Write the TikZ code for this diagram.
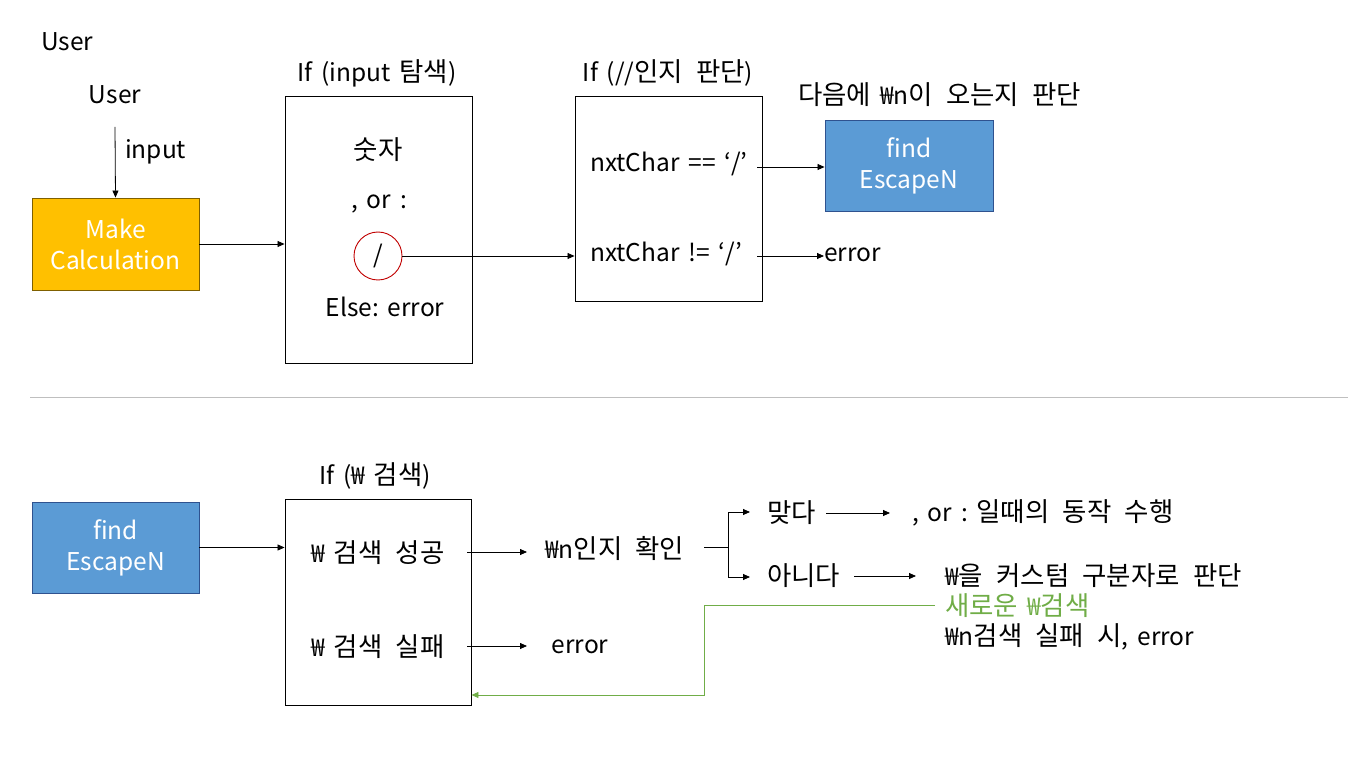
\documentclass[tikz,border=0pt]{standalone}
\usepackage{fontspec}
\setmainfont{Noto Sans CJK KR}
\newfontfamily\krfont[Scale=1.08]{Noto Sans CJK KR}
\usetikzlibrary{arrows.meta}
\definecolor{calcfill}{HTML}{FFC000}
\definecolor{calcdraw}{HTML}{7F6000}
\definecolor{bluefill}{HTML}{5B9BD5}
\definecolor{bluedraw}{HTML}{2F528F}
\definecolor{greenline}{HTML}{70AD47}
\definecolor{circred}{HTML}{C00000}
\definecolor{sepgray}{HTML}{BFBFBF}
\newcommand{\dfont}{\fontsize{24.5}{31}\selectfont\frenchspacing\spaceskip=0.36em\relax}
\newcommand{\kr}[1]{{\krfont\spaceskip=0.5em\relax #1}}
\begin{document}
\begin{tikzpicture}[x=1pt,y=-1pt,
  every node/.style={font=\dfont, inner sep=0pt},
  txt/.style={anchor=west},
  frame/.style={draw=black, line width=0.9pt},
  conn/.style={-{Triangle[length=7pt,width=6pt]}, line width=0.8pt},
  bluebox/.style={draw=bluedraw, fill=bluefill, line width=0.9pt, text=white, align=center},
]
\useasboundingbox (0,0) rectangle (1358,759);
% top section
\node[txt] (user1) at (41,42) {User};
\node (user2) at (115,95) {User};
\coordinate (inTop) at (115,127);
\node[txt] (inlab) at (125,152) {input};
\node[draw=calcdraw, fill=calcfill, line width=0.9pt, minimum width=167pt, minimum height=92pt, text=white, align=center] (calc) at (115.5,244) {Make\\Calculation};
\draw[conn] (inTop) -- (calc.north);

\node[frame, minimum width=187pt, minimum height=267pt] (box1) at (378.5,229.5) {};
\node (t1) at (377,73) {If (input \kr{탐색})};
\node (sutja) at (378,150) {\kr{숫자}};
\node (oror) at (379,204) {, or :};
\node[circle, draw=circred, line width=0.9pt, minimum size=48pt] (slash) at (378,256) {/};
\node (else) at (385,307) {Else: error};
\draw[conn] (calc.east) -- (box1.west |- calc.east);

\node[frame, minimum width=187pt, minimum height=205pt] (box2) at (668.5,198.5) {};
\node (t2) at (668,73) {If (//\kr{인지 판단})};
\node[txt] (eq) at (590,164) {nxtChar == ‘/’};
\node[txt] (neq) at (590,254) {nxtChar != ‘/’};
\draw[conn] (slash.east) -- (box2.west |- slash.east);

\node[bluebox, minimum width=168pt, minimum height=91pt] (find1) at (909,165.5) {find\\EscapeN};
\node[txt] (next) at (798,95) {\kr{다음에} ₩n\kr{이 오는지 판단}};
\node[txt] (err1) at (824,255) {error};
\coordinate (eqEnd) at (757,167);
\coordinate (neqEnd) at (757,256);
\draw[conn] (eqEnd) -- (find1.west |- eqEnd);
\draw[conn] (neqEnd) -- (err1.west |- neqEnd);

% separator
\coordinate (sepL) at (30,397);
\coordinate (sepR) at (1348,397);
\draw[sepgray, line width=0.9pt] (sepL) -- (sepR);

% bottom section
\node[bluebox, minimum width=167pt, minimum height=91pt] (find2) at (115.5,547.5) {find\\EscapeN};
\node[frame, minimum width=186pt, minimum height=206pt] (box3) at (378,602) {};
\node (t3) at (375,476) {If (₩ \kr{검색})};
\node (succ) at (378,553) {₩ \kr{검색 성공}};
\node (fail) at (378,647) {₩ \kr{검색 실패}};
\draw[conn] (find2.east) -- (box3.west |- find2.east);

\node[txt] (chk) at (545,548) {₩n\kr{인지 확인}};
\node (err2) at (580,647) {error};
\coordinate (succEnd) at (467,552);
\coordinate (failEnd) at (467,646);
\coordinate (succTip) at (527,552);
\coordinate (failTip) at (527,646);
\draw[conn] (succEnd) -- (succTip);
\draw[conn] (failEnd) -- (failTip);

\coordinate (brA) at (704,547);
\coordinate (brB) at (728,547);
\coordinate (yesTip) at (750,512);
\coordinate (noTip) at (750,577);
\node[txt] (yes) at (767,513) {\kr{맞다}};
\node[txt] (no) at (767,576) {\kr{아니다}};
\draw[line width=0.9pt] (brA) -- (brB);
\draw[conn] (brB) |- (yesTip);
\draw[conn] (brB) |- (noTip);

\node[txt] (act) at (912,513) {, or : \kr{일때의 동작 수행}};
\coordinate (yesEnd) at (826,513);
\coordinate (yesArr) at (890,513);
\draw[conn] (yesEnd) -- (yesArr);
\node[txt] (cust) at (945,576) {₩\kr{을 커스텀 구분자로 판단}};
\coordinate (noEnd) at (854,576);
\coordinate (noArr) at (916,576);
\draw[conn] (noEnd) -- (noArr);
\node[txt, text=greenline] (newsrch) at (945,606) {\kr{새로운} ₩\kr{검색}};
\node[txt] (nfail) at (945,637) {₩n\kr{검색 실패 시}, error};

\coordinate (gA) at (935,605);
\coordinate (gB) at (704,605);
\coordinate (gC) at (704,695);
\draw[greenline, line width=0.9pt, -{Triangle[length=7pt,width=6pt]}] (gA) -- (gB) -- (gC) -- (box3.east |- gC);
\end{tikzpicture}
\end{document}
